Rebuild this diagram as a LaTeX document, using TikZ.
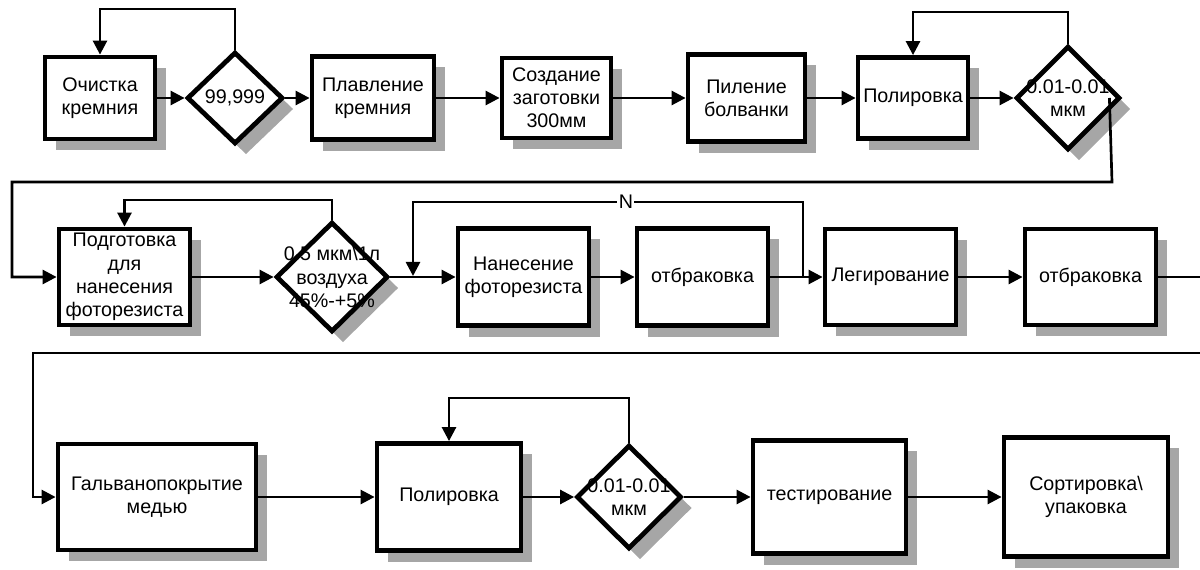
\documentclass[tikz,border=0pt]{standalone}
\usepackage{fontspec}
\setmainfont{Liberation Sans}
\usetikzlibrary{arrows.meta,shapes.geometric,shadows}
\begin{document}
\begin{tikzpicture}[x=0.025cm,y=-0.025cm,
  shdw/.style={drop shadow={shadow xshift=0.275cm,shadow yshift=-0.275cm,fill=black!35,opacity=1}},
  box/.style={draw,line width=3.4pt,fill=white,align=center,inner sep=1pt,font=\fontsize{14}{16.5}\selectfont,shdw},
  dec/.style={diamond,draw,line width=3.4pt,fill=white,inner sep=0pt,shdw},
  dtext/.style={align=center,font=\fontsize{14}{16.5}\selectfont,inner sep=0pt},
  arr/.style={-{Triangle[length=10pt,width=10pt]},line width=1.9pt},
  ln/.style={line width=1.9pt}]
\useasboundingbox (0,0) rectangle (1200,570);

% Row 1
\node[box,minimum width=2.75cm,minimum height=2.05cm] (b1) at (100,98) {Очистка\\кремния};
\node[dec,minimum width=2.4cm,minimum height=2.3cm,label={[dtext]center:{99,999}}] (d1) at (235,98) {};
\node[box,minimum width=3.05cm,minimum height=2.075cm] (b3) at (373,98) {Плавление\\кремния};
\node[box,minimum width=2.725cm,minimum height=2.0cm] (b4) at (556.5,98) {Создание\\заготовки\\300мм};
\node[box,minimum width=2.925cm,minimum height=2.175cm] (b5) at (746.5,98) {Пиление\\болванки};
\node[box,minimum width=2.75cm,minimum height=2.025cm] (b6) at (913,98) {Полировка};
\node[dec,minimum width=2.6cm,minimum height=2.6cm,label={[dtext]center:{0.01-0.01\\мкм}}] (d2) at (1068,98) {};

% Row 2
\node[box,minimum width=3.275cm,minimum height=2.4cm] (b7) at (124.5,277) {Подготовка\\для\\нанесения\\фоторезиста};
\node[dec,minimum width=2.8cm,minimum height=2.75cm,label={[dtext]center:{0.5 мкм\textbackslash 1л\\воздуха\\45\%-+5\%}}] (d3) at (332,277) {};
\node[box,minimum width=3.275cm,minimum height=2.425cm] (b8) at (523.5,277) {Нанесение\\фоторезиста};
\node[box,minimum width=3.275cm,minimum height=2.425cm] (b9) at (702.5,277) {отбраковка};
\node[box,minimum width=3.275cm,minimum height=2.4cm] (b10) at (890.5,277) {Легирование};
\node[box,minimum width=3.275cm,minimum height=2.4cm] (b11) at (1090.5,277) {отбраковка};

% Row 3
\node[box,minimum width=4.95cm,minimum height=2.65cm] (b12) at (157,497) {Гальванопокрытие\\медью};
\node[box,minimum width=3.6cm,minimum height=2.675cm] (b13) at (449,497) {Полировка};
\node[dec,minimum width=2.625cm,minimum height=2.6cm,label={[dtext]center:{0.01-0.01\\мкм}}] (d4) at (629,497) {};
\node[box,minimum width=3.825cm,minimum height=2.825cm] (b14) at (829.5,497) {тестирование};
\node[box,minimum width=4.1cm,minimum height=2.975cm] (b15) at (1086,497) {Сортировка\textbackslash\\упаковка};

% Row 1 connectors
\draw[arr] (b1) -- (d1);
\draw[arr] (d1) -- (b3);
\draw[arr] (b3) -- (b4);
\draw[arr] (b4) -- (b5);
\draw[arr] (b5) -- (b6);
\draw[arr] (b6) -- (d2);
\draw[arr] (d1.north) -- (d1.north |- 0,9) -| (b1.north);
\draw[arr] (d2.north) -- (d2.north |- 0,12) -| (b6.north);

% Row 1 -> Row 2
\draw[arr] ([xshift=-0.325cm]d2.east) -- (1112,182) -- (12,182) |- (b7.west);

% Row 2 connectors
\draw[arr] (b7) -- (d3);
\draw[arr] (d3) -- (b8);
\draw[arr] (b8) -- (b9);
\draw[arr] (b9) -- (b10);
\draw[arr] (b10) -- (b11);
\draw[arr] (d3.north) -- (d3.north |- 0,200) -| (b7.north);
\coordinate (nsrc) at (803,277);
\coordinate (ndst) at (413,276);
\draw[arr] (nsrc) -- (803,202) -- node[pos=0.454,fill=white,inner sep=1pt,font=\fontsize{14}{16}\selectfont]{N} (413,202) -- (ndst);

% Row 2 -> Row 3
\draw[arr] (b11) -- (1203,277) -- (1203,353) -- (33,353) |- (b12.west);

% Row 3 connectors
\draw[arr] (b12) -- (b13);
\draw[arr] (b13) -- (d4);
\draw[arr] (d4) -- (b14);
\draw[arr] (b14) -- (b15);
\draw[arr] (d4.north) -- (d4.north |- 0,398) -| (b13.north);
\end{tikzpicture}
\end{document}
